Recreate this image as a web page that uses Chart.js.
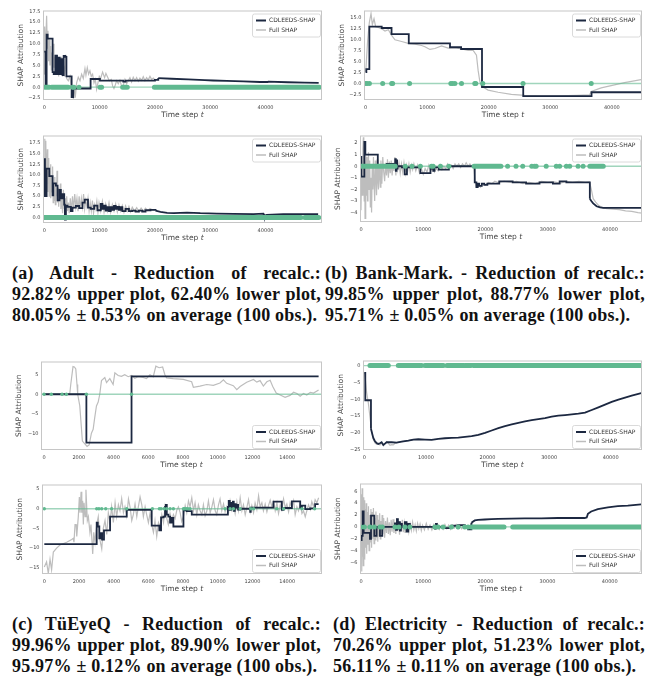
<!DOCTYPE html>
<html>
<head>
<meta charset="utf-8">
<script src="https://cdn.jsdelivr.net/npm/chart.js@4.4.1/dist/chart.umd.min.js"></script>
<style>
body { margin: 0; width: 647px; height: 679px; background: #fff; position: relative; overflow: hidden; }
canvas { position: absolute; }
.cap { position: absolute; font-family: "Liberation Serif", "Times New Roman", serif; font-weight: bold; font-size: 18px; line-height: 21px; letter-spacing: 0.2px; color: #111; white-space: nowrap; }
.cap div { text-align: justify; text-align-last: justify; }
.cap div.last { text-align: left; text-align-last: left; }
</style>
</head>
<body>
<div class="cap" style="left:12px;top:263px;width:309px"><div>(a) Adult - Reduction of recalc.:</div><div>92.82% upper plot, 62.40% lower plot,</div><div class="last">80.05% ± 0.53% on average (100 obs.).</div></div>
<div class="cap" style="left:325px;top:263px;width:320px"><div>(b) Bank-Mark. - Reduction of recalc.:</div><div>99.85% upper plot, 88.77% lower plot,</div><div class="last">95.71% ± 0.05% on average (100 obs.).</div></div>
<div class="cap" style="left:12px;top:614px;width:309px"><div>(c) TüEyeQ - Reduction of recalc.:</div><div>99.96% upper plot, 89.90% lower plot,</div><div class="last">95.97% ± 0.12% on average (100 obs.).</div></div>
<div class="cap" style="left:333px;top:614px;width:312px"><div>(d) Electricity - Reduction of recalc.:</div><div>70.26% upper plot, 51.23% lower plot,</div><div class="last">56.11% ± 0.11% on average (100 obs.).</div></div>
<script>
// ---- data: [time step, SHAP attribution] ----
// tick labels
var xTicksLong = [0, 10000, 20000, 30000, 40000];
var xTicksShort = [0, 2000, 4000, 6000, 8000, 10000, 12000, 14000];

// (a) Adult, upper
var aUpperFull = [[0,3],[60,14],[180,8],[300,12],[420,16.5],[540,9],[660,13],[780,6],[900,11],[1020,5],[1140,9.5],[1270,4],[1390,8],[1500,3.5],[1630,10],[1750,4.5],[1870,7],[1990,3],[2110,7.5],[2230,3],[2410,6],[2590,2.5],[2770,5.5],[2950,3],[3130,7],[3310,2.5],[3490,5],[3670,2.5],[3860,7.5],[4040,2],[4340,1.5],[4640,2.5],[4820,0.5],[5060,-1],[5240,-2.5],[5420,0.5],[5600,-2.4],[5840,1],[6140,2.3],[6450,1.5],[6750,3],[7050,2],[7350,4.3],[7530,2.8],[7770,4.5],[8010,3],[8250,3.8],[8490,2.5],[8730,3],[8980,1],[9220,1.8],[9460,-0.5],[9700,1],[9940,2.5],[10180,2],[10540,3.5],[10900,2.2],[11140,3.2],[11390,2.5],[11750,1.5],[12110,1.8],[12350,0.3],[12590,-0.3],[12830,0.5],[13070,1.5],[13370,0.8],[13670,1.6],[13980,0.2],[14280,0.5],[14580,1.8],[14880,0.8],[15180,1.5],[15480,2.2],[15780,1.2],[16080,2.3],[16390,1.5],[16690,2.2],[16990,1.4],[17290,2.1],[17590,1.6],[17890,2.4],[18190,1.5],[18490,2.2],[18790,1.7],[19100,2.5],[19400,1.8],[19700,2.1],[20000,1.7]];
var aUpperCdl = [[0,8.2],[240,0],[420,12.1],[600,11.2],[1500,3.5],[1700,3.0],[2000,7.3],[2300,3.0],[2600,6.8],[2800,3.0],[3100,6.5],[3300,2.8],[3500,7.2],[3800,7.0],[4000,2.5],[4940,-2.3],[5240,-0.3],[8370,1.9],[10060,1.5],[14280,1.3],[14700,1.5],[20000,1.7],[20600,2.1]];
var aUpperCdlCurve = [[20600,2.1],[23000,1.95],[26000,1.8],[29000,1.65],[30500,1.55],[33000,1.45],[36000,1.35],[39000,1.2],[40400,1.2],[40500,1.3],[44000,1.15],[47000,1.05],[49600,1.0]];
var aUpperDots = [5120, 5360, 6270, 10060, 10360];
var aUpperBands = [[120,900],[1330,4340],[14160,15000],[19900,49700]];

// (a) Adult, lower
var aLowerFull = [[0,5],[60,18.5],[120,9],[180,17],[240,12],[300,18],[360,8],[420,15],[480,10],[540,16],[600,6],[660,13],[720,8],[800,14],[880,5],[960,11],[1040,7],[1120,12.5],[1200,4.5],[1300,10],[1400,6],[1500,12],[1600,3.5],[1700,8],[1800,4],[1900,9.5],[2000,3],[2100,8],[2200,5],[2300,11],[2400,3.5],[2500,7],[2600,2.5],[2700,6.5],[2800,4],[2900,8],[3000,2],[3150,5],[3300,1],[3450,6.5],[3600,2],[3750,4.5],[3900,0],[4050,5],[4200,1.5],[4350,3.5],[4500,1],[4700,4.5],[4900,1.5],[5100,5],[5300,2],[5500,5.5],[5700,2.5],[5900,4.5],[6100,1.5],[6300,5],[6500,2],[6700,4.5],[6900,2.5],[7100,5.5],[7300,2],[7500,4],[7700,2.5],[7900,4.5],[8100,1.5],[8300,3.5],[8500,1.5],[8700,4],[8900,1],[9100,3],[9300,2],[9500,3.8],[9700,1.2],[9900,3.5],[10200,1.5],[10500,3.8],[10800,1.2],[11100,3.2],[11400,1.5],[11700,3.5],[12000,1.2],[12300,3],[12600,1.5],[12900,3.2],[13200,1.3],[13500,3],[13800,1.5],[14100,2.8],[14400,1.2],[14700,2.7],[15000,1.5],[15300,2.6],[15600,1.3],[15900,2.4],[16300,1.5],[16700,2.3],[17100,1.4],[17500,2.2],[17900,1.5],[18300,2.2],[18700,1.6],[19100,2.1],[19500,1.8],[20000,1.8]];
var aLowerCdl = [[0,5],[30,13.7],[120,5],[420,11.5],[900,9.7],[1500,5.2],[1620,8],[2100,7.5],[2400,4],[2750,6.5],[3000,4.5],[3300,5.5],[3600,3.0],[3720,-0.5],[3900,2.8],[4200,2.5],[4800,1.5],[5100,2.3],[5700,2.7],[6300,2.2],[6900,3.5],[7300,4.2],[7900,2.3],[8400,2.0],[9000,2.8],[9600,1.7],[10200,3.2],[10500,2.0],[10800,2.8],[11100,1.6],[11400,2.4],[11700,1.5],[12000,2.4],[12300,1.8],[12600,2.7],[12900,2.0],[13200,2.5],[13500,1.8],[13800,2.4],[14100,1.5],[14700,2.0],[15300,1.5],[15900,1.6],[16500,1.4],[17100,1.6],[17700,1.4],[18300,1.7],[19200,1.8],[20100,1.6]];
var aLowerCdlCurve = [[20100,1.6],[21000,1.3],[22200,1.1],[23400,1.0],[25800,1.15],[28200,1.0],[31200,0.9],[34200,0.85],[37800,0.8],[39600,0.9],[39700,0.4],[40200,0.6],[43200,0.8],[46200,0.8],[49500,0.8]];
var aLowerDots = [];
var aLowerBands = [[0,46400],[47100,49600]];

// (b) Bank-Marketing, upper
var bUpperFull = [[0,2.5],[324,10],[595,14],[865,16],[1081,13.5],[1351,14.8],[1622,13],[2054,12.8],[2594,12.5],[3135,12],[3675,12.3],[4216,11],[4756,10],[5837,9.6],[6918,9.2],[8000,9],[9080,8.7],[9620,8.4],[10430,7.8],[11240,8],[12320,8.6],[13400,8.1],[14490,8.2],[15570,7.9],[16650,7.6],[17460,7.6],[18000,6.5],[18270,3],[18540,0.5],[18810,-0.6],[19890,-1.5],[21510,-2],[23670,-2.5],[25840,-2.7],[28540,-2.8],[31240,-2.8],[34480,-2.7],[36380,-2.6],[36650,-1.8],[38270,-1],[39890,-0.5],[42050,0.2],[44750,0.9]];
var bUpperCdl = [[0,2.6],[108,3.3],[595,13.0],[2600,12.7],[4200,11.3],[7000,9.2],[13700,8.3],[15500,7.9],[18900,-0.8],[25600,-2.9],[36700,-2.0],[44760,-2.0]];
var bUpperCdlCurve = [];
var bUpperDots = [0, 220, 600, 2760, 4220, 4380, 7130, 13840, 14110, 14490, 15570, 17730, 17890, 19030, 25570, 36650];
var bUpperBands = [];

// (b) Bank-Marketing, lower
var bLowerFull = [[0,-3.8],[100,0.5],[200,-2.5],[300,1.5],[380,2.5],[450,-1],[520,-3],[600,0.5],[650,-4.5],[720,-1.5],[800,1],[880,-2.5],[960,0.8],[1040,-3],[1120,-0.5],[1200,1.2],[1300,-2],[1400,0.5],[1500,-3.5],[1600,-1],[1700,-4],[1800,0],[1900,-2],[2000,0.8],[2100,-1.5],[2200,-3],[2300,0.5],[2400,-1],[2500,-2.5],[2600,0.6],[2700,-1.2],[2800,-2],[2900,0.2],[3000,-0.8],[3100,-1.8],[3200,0.5],[3350,-1.5],[3500,0.8],[3650,-0.5],[3800,-1.3],[3950,0.3],[4100,-0.8],[4250,0.6],[4400,-1],[4550,0.4],[4700,-0.6],[4850,0.5],[5000,-0.8],[5150,0.3],[5300,-0.4],[5450,0.8],[5600,-0.8],[5750,0.5],[5900,-0.3],[6100,0.3],[6300,-0.6],[6500,0.2],[6700,-0.5],[6900,0.3],[7100,-0.6],[7300,0.1],[7500,-0.4],[7700,0.2],[7900,-0.5],[8100,0.1],[8300,-0.3],[8500,0.2],[8800,-0.4],[9100,0.1],[9400,-0.6],[9700,-0.2],[10000,-0.7],[10300,-0.2],[10600,-0.5],[10900,0.1],[11200,-0.4],[11500,-0.1],[11800,-0.5],[12100,-0.2],[12400,-0.4],[12700,0.1],[13000,-0.3],[13300,0.0],[13600,-0.2],[13900,0.2],[14200,-0.1],[14500,0.1],[14800,-0.2],[15100,0.2],[15400,0.0],[15700,0.2],[16000,-0.1],[16300,0.2],[16600,0.0],[16900,0.3],[17200,0.0],[17500,0.2],[17800,0.0],[18100,0.1],[18300,-1.2],[18500,-1.7],[18800,-1.5],[19200,-1.8],[19600,-1.5],[20000,-1.6],[20500,-1.4],[21000,-1.5],[21500,-1.3],[22000,-1.4],[23000,-1.3],[24000,-1.4],[25000,-1.3],[26000,-1.5],[27000,-1.4],[28000,-1.5],[29000,-1.3],[30000,-1.4],[31000,-1.35],[32000,-1.45],[33000,-1.3],[34000,-1.4],[35000,-1.3],[36000,-1.4],[36700,-1.35],[37000,-2.0],[37300,-2.8],[37700,-3.1],[38200,-3.4],[38900,-3.6],[39500,-3.65],[40500,-3.7],[41500,-3.75],[42500,-3.85],[43500,-3.9],[44500,-4.0],[45200,-4.05]];
var bLowerCdl = [[0,0.8],[60,-0.9],[540,2.1],[700,1.0],[2700,0.0],[4150,0.2],[5500,0.6],[5600,-0.4],[5700,0.5],[5800,-0.2],[5880,0.0],[6580,-0.1],[7010,-0.7],[7380,-0.1],[9540,-0.6],[11160,-0.2],[11400,0.1],[11600,-0.4],[11800,-0.1],[12500,-0.3],[14120,0.0],[18270,-1.4],[18540,-1.8],[18750,-1.5],[18970,-1.7],[19400,-1.5],[19800,-1.6],[20300,-1.5],[22210,-1.3],[24360,-1.4],[26520,-1.5],[28680,-1.4],[30830,-1.5],[31910,-1.3],[32990,-1.4],[36760,-2.8]];
var bLowerCdlCurve = [[36760,-2.8],[37000,-3.0],[37300,-3.2],[37840,-3.45],[38400,-3.55],[38920,-3.6],[45200,-3.6]];
var bLowerDots = [7110, 8190, 9540, 11320, 11590, 12770, 14120, 23550, 24900, 25980, 27430, 27870, 28140, 29750, 31370, 31910, 32990, 33530, 34870, 35680];
var bLowerBands = [[0,5500],[18160,22480],[36760,38920]];

// (c) TüEyeQ, upper
var cUpperFull = [[0,0],[1480,0],[1540,2.5],[1670,7.1],[1750,7.0],[1830,6.5],[1900,2.5],[1940,0],[2060,-3],[2210,-12],[2480,-13.4],[2600,-13],[2730,-10],[2830,-9],[2920,-6],[3020,-3],[3120,-2],[3210,0],[3260,1.8],[3310,3.5],[3500,4.3],[3600,3],[3790,4],[3980,2.5],[4080,5.5],[4270,4.8],[4460,4.6],[4650,5.0],[4850,4.5],[5040,4.8],[5230,4.1],[5420,4.5],[5710,4.3],[5900,4.0],[6100,5.0],[6290,4.5],[6440,7.2],[6630,6.8],[6830,7.0],[6960,5.0],[7060,4.2],[7440,4.0],[8020,3.8],[8500,3.2],[8600,1.8],[8980,2.1],[9370,2.5],[9750,2.3],[10130,2.9],[10330,3.7],[10520,2.8],[10900,2.2],[11100,1.2],[11290,2.0],[11670,3.1],[12060,3.8],[12250,3.1],[12440,3.5],[12630,2.1],[12830,3.2],[13020,3.6],[13170,2.0],[13370,0.3],[13600,-0.2],[13880,-0.8],[14170,-0.3],[14370,0.5],[14560,0.2],[14750,-0.5],[14940,0.2],[15130,-0.2],[15330,0.5],[15520,0.3],[15810,1.1]];
var cUpperCdl = [[0,0],[2440,-12.4],[5040,4.6],[15810,4.6]];
var cUpperCdlCurve = [];
var cUpperDots = [0, 420, 1040, 1290, 2440, 5040];
var cUpperBands = [];

// (c) TüEyeQ, lower
var cLowerFull = [[0,-14.8],[130,-13.5],[230,-16.4],[330,-12.8],[420,-15.5],[520,-11],[710,-10],[900,-9.2],[1290,-8.5],[1580,-7.8],[1670,-7.5],[1710,-8.5],[1770,-4],[1830,-4],[1870,-7],[1960,-2],[2020,3],[2060,-1],[2120,4.3],[2160,-1],[2210,2],[2250,-4],[2290,1.5],[2350,-2],[2400,4.8],[2480,-3],[2540,-2],[2630,-6],[2690,-4],[2790,-11.5],[2850,-6],[2920,-8.5],[3020,-4],[3110,-2],[3210,-8],[3310,-10.2],[3400,-5],[3500,-3],[3600,-6.5],[3690,-1],[3790,-3.5],[3880,0.5],[3980,-3.5],[4080,1.5],[4170,-2],[4270,1],[4360,-0.5],[4460,2.6],[4560,-1],[4650,0.5],[4750,-1.8],[4850,2.5],[4940,0.5],[5040,-3],[5130,-1.5],[5230,1.2],[5330,-2],[5420,0.5],[5520,3.0],[5620,1],[5710,-2],[5810,0.5],[5900,-1.5],[6000,-3.5],[6100,-1],[6190,-4],[6290,-6],[6380,-3],[6480,-7],[6580,-3.5],[6670,-4.5],[6770,-1.5],[6870,-3.5],[6960,0.5],[7060,-2.5],[7150,-4],[7250,-1.2],[7350,-3],[7440,-1.5],[7540,-2.5],[7640,-0.3],[7730,0.5],[7830,-1],[7920,-3.2],[8020,-2],[8120,0.8],[8210,-1],[8310,2.0],[8400,0.5],[8500,2.8],[8600,-0.5],[8690,1.5],[8790,-1.5],[8880,1.0],[8980,-0.5],[9080,-1.5],[9170,1.0],[9270,-1.8],[9370,-0.5],[9460,2.0],[9560,-1],[9660,0.5],[9750,2.3],[9850,-0.5],[9940,-1.5],[10040,1],[10130,2.5],[10230,-0.5],[10330,1.2],[10420,-0.8],[10520,0.5],[10620,-1],[10710,2],[10810,-0.3],[10900,1.2],[11000,-1.2],[11100,1.8],[11190,-0.5],[11290,2.8],[11390,-0.5],[11480,1.0],[11580,-1.5],[11670,0.2],[11770,2.3],[11870,-0.8],[11960,0.8],[12060,-1.0],[12150,1.5],[12250,-0.2],[12350,3.3],[12440,0.5],[12540,1.5],[12630,-0.5],[12730,1.2],[12830,-0.8],[12920,0.8],[13020,2.2],[13120,0.5],[13210,1.8],[13310,-0.5],[13410,1.5],[13500,-1.2],[13600,1.0],[13690,-0.3],[13790,2.5],[13890,0.2],[13980,1.2],[14080,-0.8],[14170,1.6],[14270,0.3],[14370,2.0],[14460,-1.5],[14560,0.5],[14650,-0.5],[14750,1.2],[14850,-1.2],[14940,-0.5],[15040,-2.0],[15130,-0.5],[15230,1.0],[15330,-0.2],[15420,1.8],[15520,0.5],[15610,2.3],[15710,1.5],[15810,2.8]];
var cLowerCdl = [[0,-9.0],[3020,-3.5],[3080,-4.5],[3170,-7.5],[3250,-6.2],[3330,-7.8],[3440,-5.5],[3790,-2.0],[4750,-0.3],[6190,-4.3],[6630,-5.5],[6730,-2.2],[6870,-2.0],[6960,0.5],[7000,1.0],[7060,-1.5],[7150,-2.0],[7250,-3.5],[7350,-2.3],[7440,-4.5],[8020,-0.4],[8210,-0.6],[8500,-1.5],[10580,0.5],[10630,2.0],[10690,-0.3],[10750,1.5],[10810,0.2],[10870,1.8],[10920,-0.5],[10980,1.2],[11040,0.3],[11100,1.0],[11170,-0.2],[11290,0.0],[11870,-0.8],[11900,0.3],[13210,1.8],[13690,-0.3],[13790,0.2],[14270,1.9],[14750,0.3],[14850,0.8],[15040,-0.1],[15330,0.1],[15610,1.2],[15810,1.2]];
var cLowerCdlCurve = [];
var cLowerDots = [0, 3020, 3150, 3310, 3540, 3880, 4750, 6230, 6630, 6730, 6900, 7060, 7250, 7440, 8020, 8080, 8170, 8270, 8400, 10420, 10710, 10900, 11290, 11900, 12060, 13400, 13790, 14850, 15580];
var cLowerBands = [];

// (d) Electricity, upper
var dUpperFull = [[0,-2],[160,-4],[380,-8],[650,-11],[900,-15],[1190,-19.5],[1460,-22],[1730,-23],[2000,-23.4],[2270,-23.3],[2550,-23.6],[2810,-23],[3090,-23.8],[3360,-23.2],[3630,-22.6],[3900,-23.1],[4170,-23.7],[4440,-23.5],[4710,-23.6],[5000,-23.1],[5250,-22.9],[6060,-22.6],[7150,-22.3],[7960,-22.0]];
var dUpperCdl = [[0,-2.2],[160,-10.3],[1080,-18.8]];
var dUpperCdlCurve = [[1080,-18.8],[1190,-19.6],[1460,-21.5],[1730,-22.5],[2000,-23],[2270,-23.3],[2540,-23.1],[2810,-22.8],[3090,-23.6],[3360,-23.2],[3630,-22.8],[4440,-22.8],[5250,-22.9],[6060,-22.6],[7150,-22.3],[7960,-22.0],[8770,-21.9],[9850,-22.0],[10930,-22.1],[12020,-21.8],[13100,-21.6],[14180,-21.5],[15260,-21.4],[16350,-21.2],[17430,-21.0],[18510,-20.6],[19600,-20.0],[20680,-19.3],[21760,-18.6],[22840,-18.0],[23930,-17.5],[25010,-17.0],[26090,-16.6],[27170,-16.2],[28260,-15.9],[29340,-15.6],[30420,-15.2],[31500,-14.9],[32590,-14.7],[33670,-14.5],[34750,-14.3],[35830,-14.0],[36920,-13.2],[38000,-12.4],[39080,-11.6],[40160,-10.8],[41250,-10.1],[42330,-9.5],[43410,-8.9],[44490,-8.4],[45140,-8.1]];
var dUpperDots = [9310];
var dUpperBands = [[920,3900],[5520,9040],[9850,12830],[13420,16130],[16350,17320],[17700,45100]];

// (d) Electricity, lower
var dLowerFull = [[0,-2],[60,5.5],[120,-7.5],[180,6.5],[240,-5],[300,3.5],[360,-6.5],[420,5],[480,-4],[540,4.5],[600,-5.5],[680,3],[760,-3.5],[840,4],[920,-4.5],[1000,2.5],[1100,-3],[1200,3.5],[1300,-4],[1400,2],[1500,-2.5],[1600,3],[1700,-3.5],[1800,2.5],[1900,-2],[2000,3.2],[2100,-2.8],[2200,1.5],[2300,-2.2],[2400,2.6],[2500,-1.8],[2600,2],[2700,-2.5],[2800,1.2],[2900,-1.5],[3000,2.3],[3100,-2],[3200,1],[3300,-1.5],[3400,2],[3500,-1.2],[3650,1.5],[3800,-1.8],[3950,1],[4100,-1],[4250,1.6],[4400,-1.2],[4550,0.8],[4700,-1.4],[4850,1.2],[5000,-0.8],[5150,1.3],[5300,-1],[5450,0.6],[5600,-1.2],[5750,1.5],[5900,-0.7],[6050,1],[6200,-1.3],[6350,0.8],[6500,-0.6],[6650,1.2],[6800,-0.9],[6950,0.6],[7100,-1],[7250,0.9],[7400,-0.5],[7550,0.7],[7700,-0.8],[7900,0.5],[8100,-0.6],[8300,0.8],[8500,-0.5],[8700,0.4],[8900,-0.7],[9100,0.6],[9300,-0.3],[9500,0.5],[9700,-0.6],[9900,0.3],[10200,-0.5],[10500,0.6],[10800,-0.4],[11100,0.3],[11400,-0.5],[11700,0.4],[12000,-0.3],[12300,0.5],[12600,-0.4],[12900,0.2],[13200,-0.4],[13500,0.4],[13800,-0.3],[14100,0.3],[14400,-0.4],[14700,0.3],[15000,-0.2],[15300,0.4],[15600,-0.3],[15900,0.2],[16200,-0.3],[16500,0.3],[16800,-0.2],[17100,0.2],[17400,-0.3],[17700,0.5],[18000,0.8],[18300,1.1]];
var dLowerCdl = [[0,-2.2],[107,-1.5],[270,2.6],[430,-1.0],[1440,-2.0],[1610,1.9],[2140,-1.5],[2510,0.0],[3050,-1.5],[3420,0.0],[5460,0.6],[5620,-0.5],[5780,1.3],[5940,-0.3],[6100,0.8],[6260,-0.6],[6420,0.5],[6580,0.0],[7060,0.8],[7330,-0.8],[7600,0.5],[7860,0.0],[11880,-0.3],[12040,0.5],[12200,0.0],[13210,-0.2],[14550,0.2],[15620,0.3],[16690,0.1],[17230,-0.4],[17760,0.7]];
var dLowerCdlCurve = [[17760,0.7],[18030,0.9],[18300,1.1],[18830,1.2],[19900,1.25],[20970,1.3],[22040,1.35],[24180,1.4],[26320,1.45],[29000,1.45],[31670,1.5],[34350,1.5],[35950,1.5],[36300,1.6],[36490,2.2],[37020,2.6],[38090,3.0],[39700,3.3],[41300,3.5],[42910,3.6],[45050,3.8]];
var dLowerDots = [0, 540, 1440, 2140, 3050, 3420, 5460, 6100, 7060, 7860, 11880, 12410, 13210, 14550, 15620, 16690, 17230];
var dLowerBands = [[17760,23000],[24400,45050]];

// ---- styling / layout ----
var GREEN = '#60b990';
var DARK = '#1c2841';
var GREY = '#bdbdbd';
var PADL = 45, PADR = 4, PADT = 3, PADB = 22;

var panels = [
  { full: aUpperFull, cdl: aUpperCdl, curve: aUpperCdlCurve, dots: aUpperDots, bands: aUpperBands, box: [43, 8, 322, 100], x: [-235, 50200], xt: xTicksLong, y: [-2.95, 17.7, 2.5], dec: 1, legend: 'top', r: 2.5 },
  { full: bUpperFull, cdl: bUpperCdl, curve: bUpperCdlCurve, dots: bUpperDots, bands: bUpperBands, box: [364, 8, 642, 100], x: [-276, 44900], xt: xTicksLong, y: [-3.77, 16.7, 2.5], dec: 1, legend: 'top', r: 2.5 },
  { full: aLowerFull, cdl: aLowerCdl, curve: aLowerCdlCurve, dots: aLowerDots, bands: aLowerBands, box: [43, 133, 322, 223], x: [-235, 50200], xt: xTicksLong, y: [-1.3, 19.26, 2.5], dec: 1, legend: 'top', r: 2.5 },
  { full: bLowerFull, cdl: bLowerCdl, curve: bLowerCdlCurve, dots: bLowerDots, bands: bLowerBands, box: [360, 133, 642, 222], x: [-160, 45140], xt: xTicksLong, y: [-4.81, 2.65, 1], dec: 0, legend: 'top', r: 2.5 },
  { full: cUpperFull, cdl: cUpperCdl, curve: cUpperCdlCurve, dots: cUpperDots, bands: cUpperBands, box: [41, 359, 322, 450], x: [-173, 16006], xt: xTicksShort, y: [-14.3, 8.4, 5], dec: 0, legend: 'bottom', r: 1.7 },
  { full: dUpperFull, cdl: dUpperCdl, curve: dUpperCdlCurve, dots: dUpperDots, bands: dUpperBands, box: [363, 358, 642, 450], x: [-211, 45080], xt: xTicksLong, y: [-25.1, 1.52, 5], dec: 0, legend: 'bottom', r: 2.5 },
  { full: cLowerFull, cdl: cLowerCdl, curve: cLowerCdlCurve, dots: cLowerDots, bands: cLowerBands, box: [42, 482, 322, 574], x: [-133, 16006], xt: xTicksShort, y: [-16.56, 6.16, 5], dec: 0, legend: 'bottom', r: 1.7 },
  { full: dLowerFull, cdl: dLowerCdl, curve: dLowerCdlCurve, dots: dLowerDots, bands: dLowerBands, box: [360, 481, 642, 574], x: [-160, 45190], xt: xTicksLong, y: [-7.92, 7.31, 2], dec: 0, legend: 'bottom', r: 2.5 }
];

function pts(arr) {
  return arr.map(function (p) { return { x: p[0], y: p[1] }; });
}

function bandPts(list) {
  var out = [];
  list.forEach(function (b) {
    out.push({ x: b[0], y: 0 }, { x: b[1], y: 0 }, { x: b[1], y: null });
  });
  return out;
}

function fmt(v, dec) {
  return v.toFixed(dec).replace('-', '\u2212');
}

// frame, axis titles and in-plot legend
var framePlugin = {
  id: 'frame',
  afterDraw: function (chart, args, opts) {
    var ctx = chart.ctx, a = chart.chartArea;
    ctx.save();
    ctx.strokeStyle = '#c6c6c6';
    ctx.lineWidth = 1;
    ctx.strokeRect(a.left + 0.5, a.top + 0.5, a.right - a.left - 1, a.bottom - a.top - 1);

    ctx.fillStyle = '#444';
    ctx.textBaseline = 'middle';
    var f1 = '7.5px "DejaVu Sans"', f2 = 'italic 7.5px "DejaVu Sans"';
    ctx.font = f1;
    var w1 = ctx.measureText('Time step ').width;
    ctx.font = f2;
    var w2 = ctx.measureText('t').width;
    var sx = (a.left + a.right) / 2 - (w1 + w2) / 2, ty = a.bottom + 15;
    ctx.textAlign = 'left';
    ctx.font = f1;
    ctx.fillText('Time step ', sx, ty);
    ctx.font = f2;
    ctx.fillText('t', sx + w1, ty);

    ctx.save();
    ctx.translate(a.left - 22, (a.top + a.bottom) / 2);
    ctx.rotate(-Math.PI / 2);
    ctx.textAlign = 'center';
    ctx.font = f1;
    ctx.fillText('SHAP Attribution', 0, 0);
    ctx.restore();

    // legend
    var bw = 68, bh = 23;
    var bx = a.right - bw - 2;
    var by = opts.legend === 'top' ? a.top + 3 : a.bottom - bh - 2;
    ctx.beginPath();
    ctx.roundRect(bx + 0.5, by + 0.5, bw, bh, 2);
    ctx.fillStyle = 'rgba(255,255,255,0.85)';
    ctx.fill();
    ctx.strokeStyle = '#d0d0d0';
    ctx.lineWidth = 0.8;
    ctx.stroke();
    var rows = [['CDLEEDS-SHAP', DARK, 2], ['Full SHAP', GREY, 1.5]];
    ctx.font = '6px "DejaVu Sans"';
    ctx.textAlign = 'left';
    rows.forEach(function (r, i) {
      var yy = by + 7 + i * 9.5;
      ctx.beginPath();
      ctx.moveTo(bx + 4, yy);
      ctx.lineTo(bx + 14, yy);
      ctx.strokeStyle = r[1];
      ctx.lineWidth = r[2];
      ctx.stroke();
      ctx.fillStyle = '#333';
      ctx.fillText(r[0], bx + 17, yy);
    });
    ctx.restore();
  }
};

panels.forEach(function (p) {
  var L = p.box[0], T = p.box[1], R = p.box[2], B = p.box[3];
  var w = R - L + PADL + PADR, h = B - T + PADT + PADB;
  var cv = document.createElement('canvas');
  cv.width = w; cv.height = h;
  cv.style.left = (L - PADL) + 'px';
  cv.style.top = (T - PADT) + 'px';
  cv.style.width = w + 'px';
  cv.style.height = h + 'px';
  document.body.appendChild(cv);

  var tickFont = { size: 5, family: 'DejaVu Sans' };
  new Chart(cv, {
    type: 'line',
    data: {
      datasets: [
        { label: 'Full SHAP', data: pts(p.full), borderColor: GREY, borderWidth: 1.2, pointRadius: 0, tension: 0, order: 5 },
        { label: 'zero', data: [{ x: p.x[0], y: 0 }, { x: p.x[1], y: 0 }], borderColor: 'rgba(96,185,144,0.6)', borderWidth: 1.3, pointRadius: 0, order: 4 },
        { label: 'CDLEEDS-SHAP', data: pts(p.cdl), borderColor: DARK, borderWidth: 1.8, pointRadius: 0, stepped: true, order: 3 },
        { label: 'CDLEEDS-SHAP (recalculated)', data: pts(p.curve), borderColor: DARK, borderWidth: 1.8, pointRadius: 0, tension: 0, order: 2 },
        { label: 'bands', data: bandPts(p.bands), borderColor: GREEN, borderWidth: p.r * 2, borderCapStyle: 'round', pointRadius: 0, spanGaps: false, order: 1 },
        { label: 'recalc', data: p.dots.map(function (x) { return { x: x, y: 0 }; }), showLine: false, pointRadius: p.r, pointBackgroundColor: GREEN, pointBorderWidth: 0, order: 0 }
      ]
    },
    options: {
      responsive: false,
      animation: false,
      devicePixelRatio: 1,
      layout: { padding: { left: 0, top: PADT, right: PADR, bottom: 0 } },
      plugins: { legend: { display: false }, tooltip: { enabled: false }, frame: { legend: p.legend } },
      scales: {
        x: {
          type: 'linear', min: p.x[0], max: p.x[1],
          afterFit: function (s) { s.height = PADB; },
          afterBuildTicks: function (s) { s.ticks = p.xt.map(function (v) { return { value: v }; }); },
          grid: { display: false, drawTicks: false }, border: { display: false },
          ticks: { autoSkip: false, maxRotation: 0, padding: 4.5, font: tickFont, color: '#444',
            callback: function (v) { return fmt(v, 0); } }
        },
        y: {
          type: 'linear', min: p.y[0], max: p.y[1],
          afterFit: function (s) { s.width = PADL; },
          grid: { display: false, drawTicks: false }, border: { display: false },
          ticks: { stepSize: p.y[2], includeBounds: false, autoSkip: false, padding: 2.5, font: tickFont, color: '#444',
            callback: function (v) { return fmt(v, p.dec); } }
        }
      }
    },
    plugins: [framePlugin]
  });
});
</script>
</body>
</html>
